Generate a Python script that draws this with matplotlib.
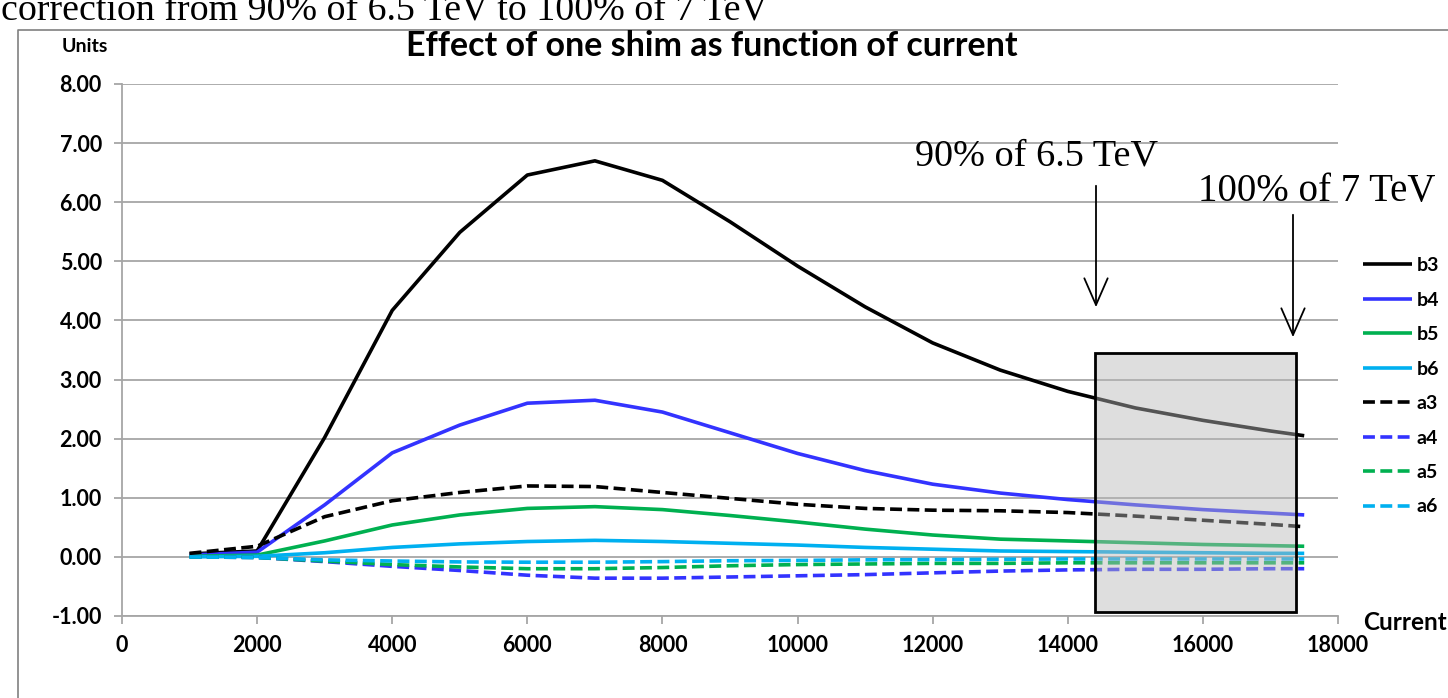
import matplotlib
matplotlib.use("Agg")
import matplotlib.pyplot as plt
from matplotlib.patches import Rectangle

plt.rcParams['font.family'] = ['Lato', 'DejaVu Sans']

current = [1000, 2000, 3000, 4000, 5000, 6000, 7000, 8000, 9000, 10000,
           11000, 12000, 13000, 14000, 15000, 16000, 17000, 17500]

b3 = [0.05, 0.10, 2.02, 4.17, 5.49, 6.46, 6.70, 6.37, 5.67, 4.92,
      4.23, 3.62, 3.16, 2.80, 2.52, 2.31, 2.13, 2.05]
b4 = [0.03, 0.08, 0.88, 1.76, 2.23, 2.60, 2.65, 2.45, 2.10, 1.75,
      1.46, 1.23, 1.08, 0.97, 0.88, 0.80, 0.74, 0.71]
b5 = [0.01, 0.03, 0.27, 0.54, 0.71, 0.82, 0.85, 0.80, 0.70, 0.59,
      0.47, 0.37, 0.30, 0.27, 0.24, 0.21, 0.19, 0.18]
b6 = [0.00, 0.01, 0.07, 0.16, 0.22, 0.26, 0.28, 0.26, 0.23, 0.20,
      0.16, 0.13, 0.10, 0.09, 0.08, 0.07, 0.06, 0.06]
a3 = [0.06, 0.18, 0.68, 0.95, 1.09, 1.20, 1.19, 1.09, 0.99, 0.89,
      0.82, 0.79, 0.78, 0.75, 0.69, 0.62, 0.55, 0.51]
a4 = [0.00, -0.01, -0.08, -0.16, -0.23, -0.31, -0.36, -0.36, -0.34, -0.32,
      -0.30, -0.27, -0.24, -0.22, -0.21, -0.21, -0.20, -0.20]
a5 = [0.00, -0.01, -0.07, -0.13, -0.17, -0.20, -0.20, -0.18, -0.15, -0.13,
      -0.12, -0.11, -0.11, -0.10, -0.10, -0.10, -0.10, -0.10]
a6 = [0.00, -0.01, -0.05, -0.07, -0.085, -0.09, -0.09, -0.08, -0.065, -0.06,
      -0.05, -0.045, -0.04, -0.035, -0.035, -0.035, -0.035, -0.035]

series = [("b3", b3), ("b4", b4), ("b5", b5), ("b6", b6),
          ("a3", a3), ("a4", a4), ("a5", a5), ("a6", a6)]
colors = {"3": "#000000", "4": "#3333ff", "5": "#00b050", "6": "#00b0f0"}

xticks = list(range(0, 18001, 2000))
yticks = [-1, 0, 1, 2, 3, 4, 5, 6, 7, 8]

W, H = 1448, 698
fig = plt.figure(figsize=(W / 100, H / 100), dpi=100)
ax = fig.add_axes([122 / W, 1 - 616 / H, (1338 - 122) / W, (616 - 84) / H])

for name, vals in series:
    ls = "-" if name[0] == "b" else (0, (3.3, 1.5))
    ax.plot(current, vals, color=colors[name[1]], lw=2.6, ls=ls, label=name,
            zorder=3, solid_capstyle="butt", dash_capstyle="butt")

ax.set_xlim(0, 18000)
ax.set_ylim(-1, 8)
ax.set_xticks(xticks)
ax.set_xticklabels([str(t) for t in xticks], fontsize=15.5, fontweight="bold")
ax.set_yticks(yticks)
ax.set_yticklabels([f"{t:.2f}" for t in yticks], fontsize=15.5, fontweight="bold")
ax.yaxis.grid(True, color="#a6a6a6", lw=1.3, zorder=0)
ax.set_axisbelow(True)
for s in ["top", "right"]:
    ax.spines[s].set_visible(False)
for s in ["left", "bottom"]:
    ax.spines[s].set_color("#a6a6a6")
    ax.spines[s].set_linewidth(1.3)
ax.tick_params(axis="both", length=6, width=1.3, color="#a6a6a6")
ax.tick_params(axis="x", pad=8)
ax.tick_params(axis="y", pad=8.5)

# gray highlight box
ax.add_patch(Rectangle((14400, -0.93), 2980, 4.38, facecolor="#b8b8b8",
                       alpha=0.46, edgecolor="none", zorder=5))
ax.add_patch(Rectangle((14400, -0.93), 2980, 4.38, facecolor="none",
                       edgecolor="black", lw=2, zorder=6))

# titles
fig.text(712 / W, 1 - 46 / H, "Effect of one shim as function of current",
         ha="center", va="center", fontsize=24.5, fontweight="bold")
fig.text(62 / W, 1 - 46 / H, "Units", ha="left", va="center",
         fontsize=14, fontweight="bold")
fig.text(1363 / W, 1 - 622 / H, "Current", ha="left", va="center",
         fontsize=17.5, fontweight="bold")

# slide text cut at top
fig.text(1 / W, 1 - 19 / H, "correction from 90% of 6.5 TeV to 100% of 7 TeV",
         ha="left", va="baseline", fontsize=27.3, family="Liberation Serif")

# annotations
fig.text(915 / W, 1 - 166 / H, "90% of 6.5 TeV", ha="left", va="baseline",
         fontsize=27.5, family="Liberation Serif")
fig.text(1198 / W, 1 - 201 / H, "100% of 7 TeV", ha="left", va="baseline",
         fontsize=28, family="Liberation Serif")
for xp, y0, y1 in [(1096, 183, 310), (1293, 212, 340)]:
    fig.add_artist(matplotlib.patches.FancyArrowPatch(
        (xp / W, 1 - y0 / H), (xp / W, 1 - y1 / H), transform=fig.transFigure,
        arrowstyle="->,head_length=1.6,head_width=0.7", lw=1.3, color="black",
        mutation_scale=12))

# chart-area border
fig.add_artist(matplotlib.lines.Line2D([18 / W, 18 / W, 1.0], [0.0, 1 - 30 / H, 1 - 30 / H],
                                       transform=fig.transFigure, color="#808080", lw=1.2))

leg = ax.legend(loc="upper left", bbox_to_anchor=(1363 / W, 1 - 257 / H),
                bbox_transform=fig.transFigure, frameon=False,
                prop={"weight": "bold", "size": 14}, handlelength=2.5,
                handletextpad=0.25, labelspacing=0.9, borderaxespad=0,
                borderpad=0)

fig.savefig("out.png", dpi=100)
